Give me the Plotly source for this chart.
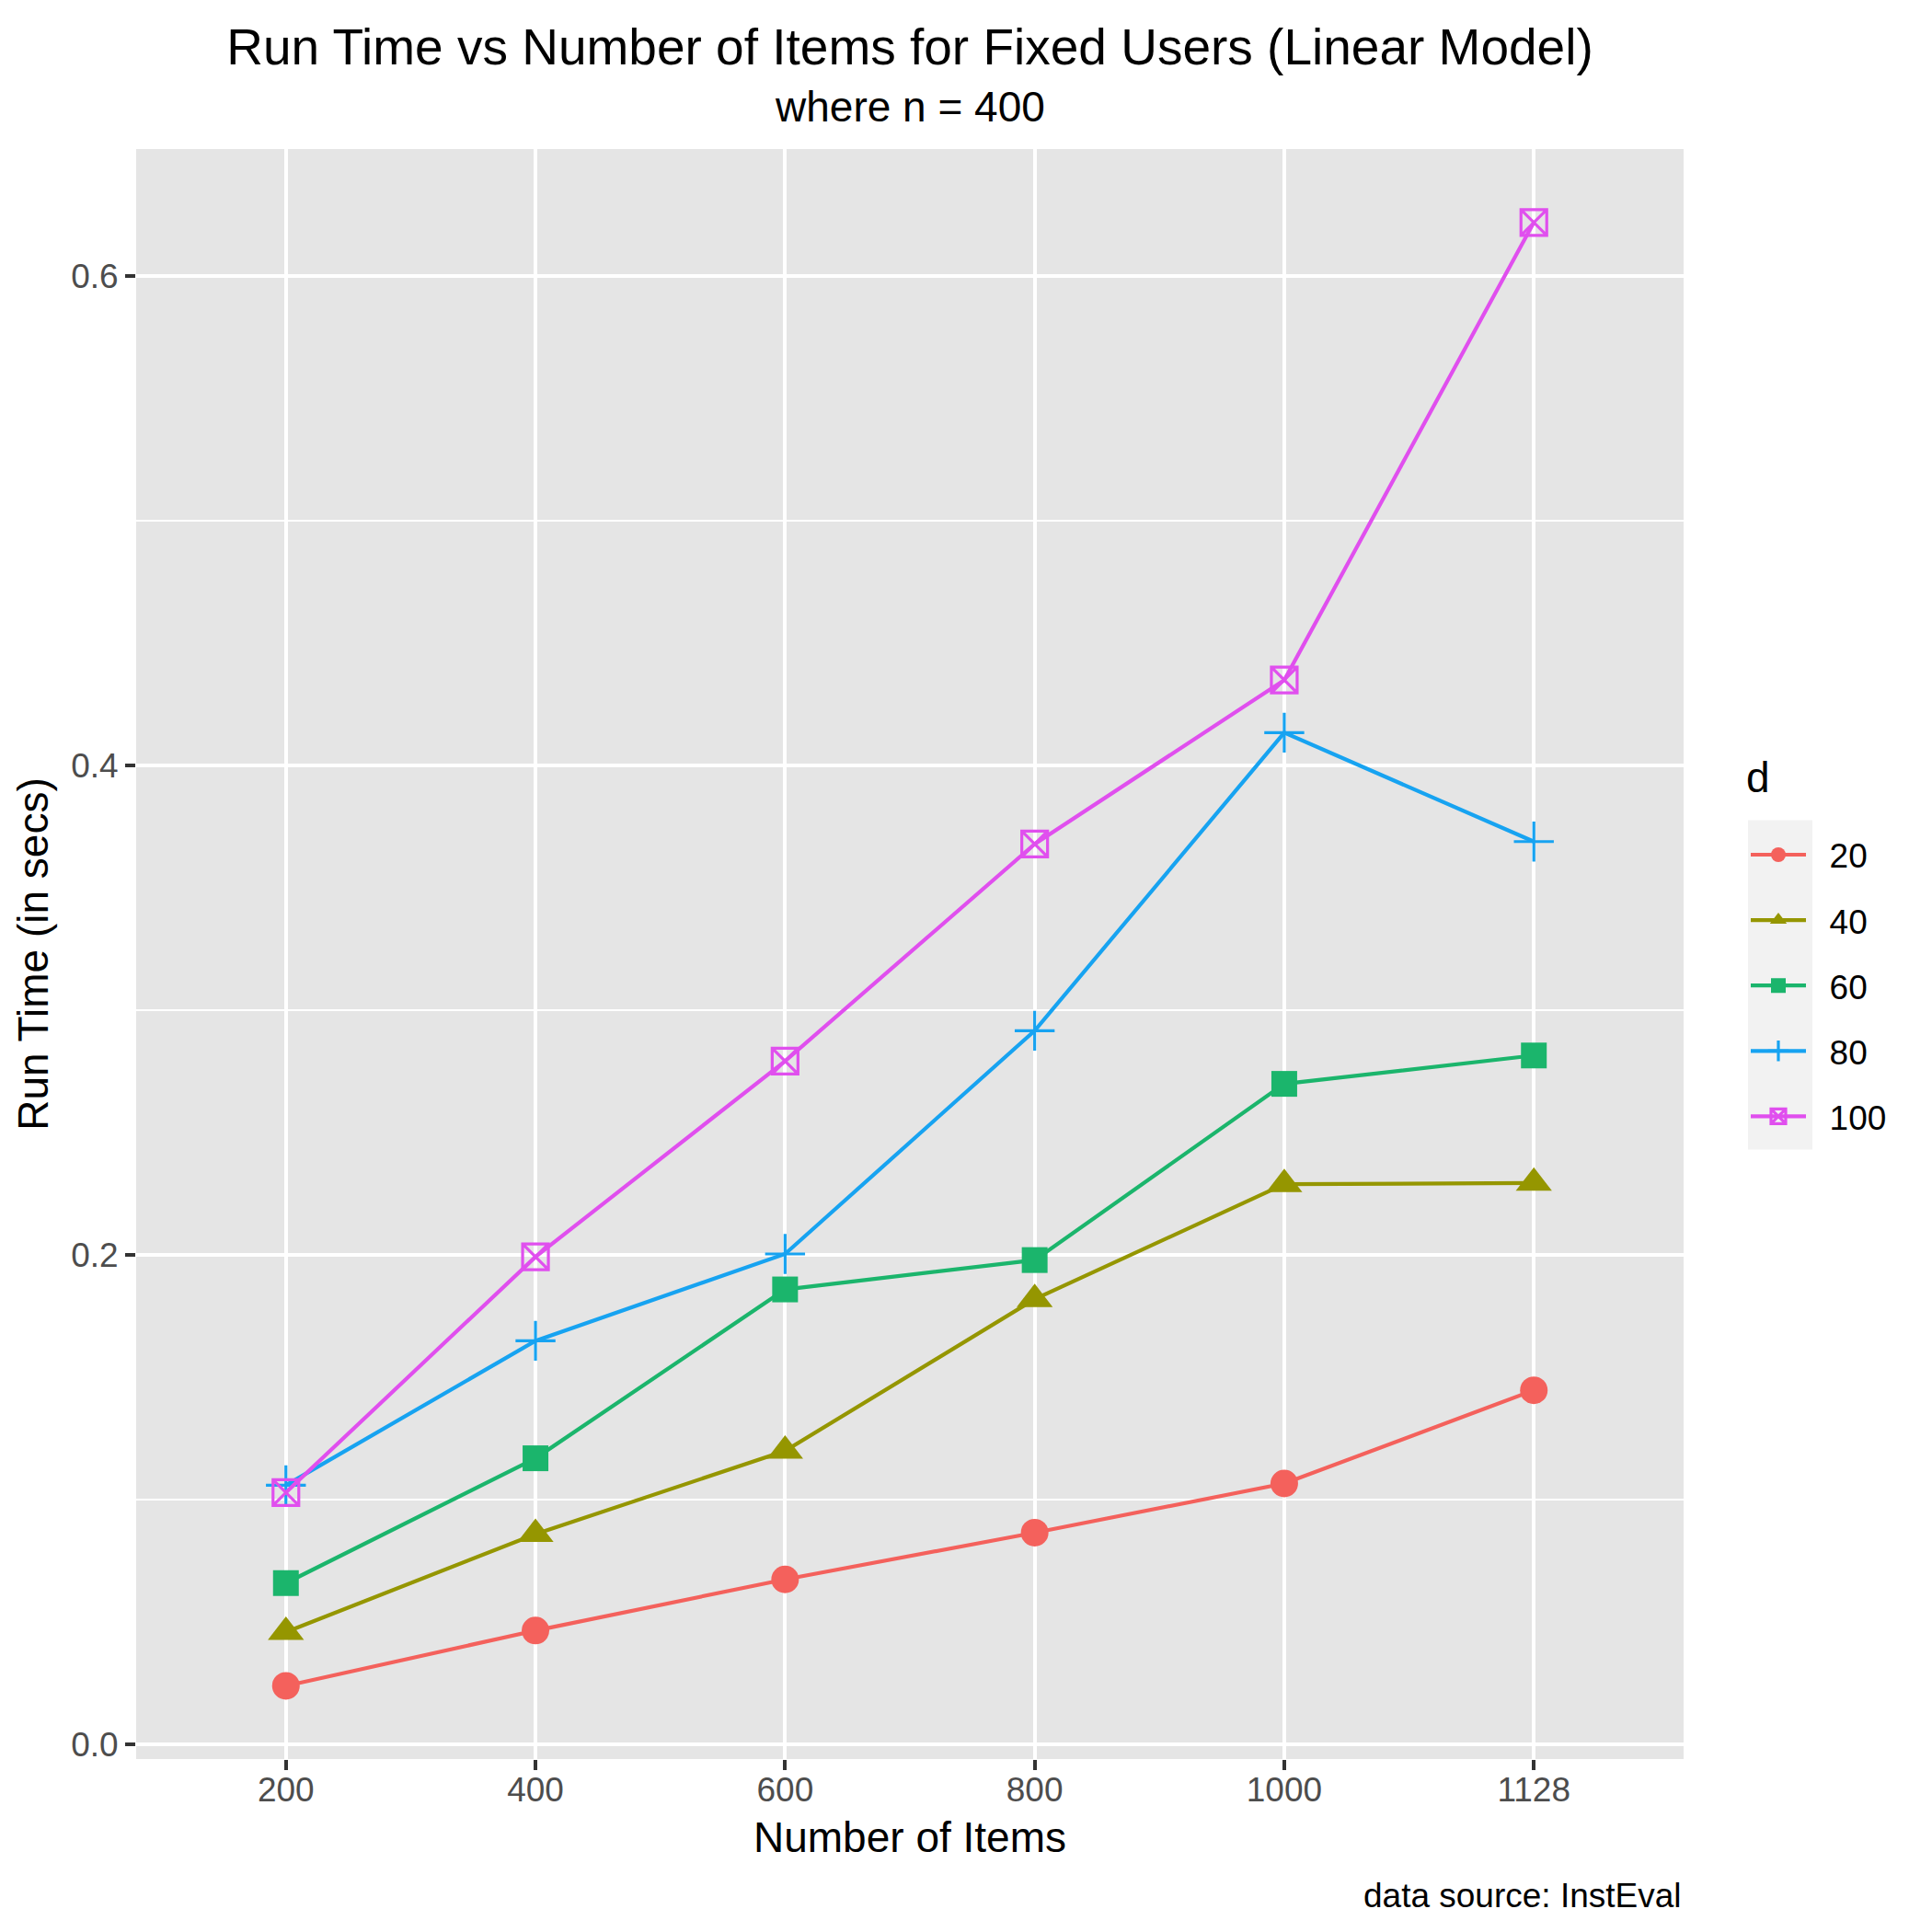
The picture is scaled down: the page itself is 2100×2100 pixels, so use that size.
import plotly.graph_objects as go

# ---- data ----
items = ["200", "400", "600", "800", "1000", "1128"]
d_levels = ["20", "40", "60", "80", "100"]
run_d20 = [0.024, 0.0466, 0.0675, 0.0866, 0.1067, 0.1448]
run_d40 = [0.046, 0.086, 0.120, 0.182, 0.229, 0.2295]
run_d60 = [0.066, 0.117, 0.186, 0.198, 0.270, 0.2816]
run_d80 = [0.106, 0.165, 0.2005, 0.2917, 0.4135, 0.369]
run_d100 = [0.103, 0.1993, 0.2793, 0.368, 0.435, 0.622]
y_ticks = [0.0, 0.2, 0.4, 0.6]
y_ticktext = ["0.0", "0.2", "0.4", "0.6"]

series = [run_d20, run_d40, run_d60, run_d80, run_d100]
colors = ["#F4615C", "#959600", "#1BB56C", "#17A3F1", "#E04FEE"]
symbols = ["circle", "triangle-up", "square", "cross-thin", "square-x-open"]
sizes = [30, 34, 28, 31, 28]

W = H = 2100
L, R, T, B = 148, 270, 161.5, 188.4
pw = W - L - R
ph = H - T - B

def px_x(x):
    return (x - L) / pw

def px_y(y):
    return (H - B - y) / ph

FONT = "Liberation Sans, Arial, Helvetica, sans-serif"
NB = "\u00a0\u00a0"

fig = go.Figure()
for lvl, vals, col, sym, sz in zip(d_levels, series, colors, symbols, sizes):
    thin = sym in ("cross-thin", "square-x-open")
    fig.add_trace(go.Scatter(
        x=items, y=vals, name=NB + lvl, mode="lines+markers",
        legendgroup=lvl,
        line=dict(color=col, width=4.2),
        marker=dict(symbol=sym, size=sz, color=col,
                    line=dict(color=col, width=3.2 if thin else 0)),
    ))

fig.update_layout(
    width=W, height=H,
    margin=dict(l=L, r=R, t=T, b=B, pad=0),
    paper_bgcolor="white",
    plot_bgcolor="#E5E5E5",
    font=dict(family=FONT, color="black", size=37),
    title=dict(text="Run Time vs Number of Items for Fixed Users (Linear Model)",
               x=px_x((L + W - R) / 2), xref="paper", xanchor="center",
               y=1 - 51 / H, yref="container", yanchor="middle",
               font=dict(size=55, color="black", family=FONT)),
    showlegend=True,
    legend=dict(
        x=px_x(1898), xanchor="left", xref="paper",
        y=px_y(898), yanchor="top", yref="paper",
        bgcolor="rgba(0,0,0,0)", borderwidth=0,
        font=dict(size=37, color="black", family=FONT),
        itemwidth=60, tracegroupgap=20,
    ),
    annotations=[
        dict(text="where n = 400", xref="paper", yref="paper",
             x=px_x((L + W - R) / 2), y=px_y(115), xanchor="center", yanchor="middle",
             showarrow=False, font=dict(size=46, color="black", family=FONT)),
        dict(text="data source: InstEval", xref="paper", yref="paper",
             x=1.0, y=px_y(2060), xanchor="right", yanchor="middle",
             showarrow=False, font=dict(size=37, color="black", family=FONT)),
        dict(text="d", xref="paper", yref="paper",
             x=px_x(1896), y=px_y(845), xanchor="left", yanchor="middle",
             showarrow=False, font=dict(size=46, color="black", family=FONT)),
    ],
    shapes=[
        dict(type="rect", xref="paper", yref="paper",
             x0=px_x(1900), x1=px_x(1970), y0=px_y(1249), y1=px_y(891),
             fillcolor="#F2F2F2", line=dict(width=0), layer="below"),
    ],
)

fig.update_xaxes(
    type="category", range=[-0.6, 5.6],
    showgrid=True, gridcolor="white", gridwidth=4,
    zeroline=False, showline=False,
    ticks="outside", ticklen=11, tickwidth=4, tickcolor="#333333",
    ticklabelstandoff=-10,
    tickfont=dict(size=37, color="#4D4D4D", family=FONT),
    title=dict(text="Number of Items", font=dict(size=46, color="black", family=FONT), standoff=15),
)
fig.update_yaxes(
    range=[-0.0059, 0.652],
    tickmode="array", tickvals=y_ticks, ticktext=y_ticktext,
    showgrid=True, gridcolor="white", gridwidth=4,
    minor=dict(dtick=0.1, tick0=0, showgrid=True, gridcolor="white", gridwidth=2, ticks=""),
    zeroline=False, showline=False,
    ticks="outside", ticklen=11, tickwidth=4, tickcolor="#333333",
    tickfont=dict(size=37, color="#4D4D4D", family=FONT),
    title=dict(text="Run Time (in secs)", font=dict(size=46, color="black", family=FONT), standoff=10),
)

fig.write_html("out.html", config={"displayModeBar": False},
               post_script="document.body.style.margin='0px';")
